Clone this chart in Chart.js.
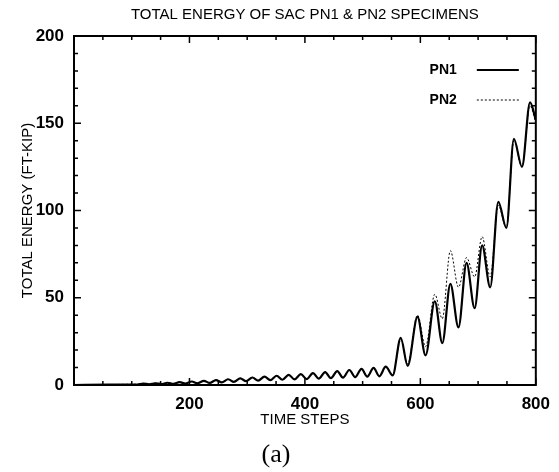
<!DOCTYPE html>
<html>
<head>
<meta charset="utf-8">
<script src="https://cdn.jsdelivr.net/npm/chart.js@4.4.0/dist/chart.umd.min.js"></script>
<style>
html, body { margin: 0; padding: 0; background: #fff; }
#wrap { width: 559px; height: 472px; }
</style>
</head>
<body>
<div id="wrap"><canvas id="energyChart"></canvas></div>
<script>
// time step of each sample (shared by both specimens)
var steps = [0, 60, 100,
    110, 120, 130, 141, 151, 162, 172, 183, 193, 204,
    214, 225, 235, 246, 256, 267, 277, 288, 298, 309,
    319, 330, 340, 351, 361, 372, 382, 393, 403, 414,
    424, 435, 445, 456, 466, 477, 487, 498, 508, 519,
    529, 540, 552, 566, 578, 595, 609, 625, 638, 652,
    666, 680, 694, 707, 721, 735, 749, 762, 776, 790, 800];

// total energy, ft-kip
var pn1Energy = [0, 0.2, 0.3,
    0.3, 0.8, 0.4, 1.0, 0.5, 1.3, 0.6, 1.6, 0.8, 2.0,
    1.0, 2.4, 1.2, 2.8, 1.5, 3.3, 1.8, 3.8, 2.2, 4.3,
    2.5, 4.8, 2.8, 5.3, 3.0, 5.8, 3.2, 6.2, 3.4, 6.8,
    3.6, 7.4, 3.9, 8.0, 4.2, 8.6, 4.5, 9.2, 4.8, 9.8,
    5.0, 10.5, 5.5, 27, 11, 39, 17, 48, 24, 58,
    33, 70, 44, 80, 56, 105, 90, 141, 125, 162, 152];

var pn2Energy = [0, 0.2, 0.4,
    0.4, 0.9, 0.5, 1.1, 0.6, 1.4, 0.7, 1.7, 0.9, 2.1,
    1.1, 2.5, 1.3, 2.9, 1.6, 3.4, 1.9, 3.9, 2.3, 4.4,
    2.6, 4.9, 2.9, 5.4, 3.1, 5.9, 3.3, 6.3, 3.5, 6.9,
    3.7, 7.5, 4.0, 8.1, 4.3, 8.7, 4.6, 9.3, 4.9, 9.9,
    5.1, 10.6, 5.8, 26, 12, 40, 22, 52, 38, 77,
    56, 73, 62, 85, 62, 103, 90, 140, 125, 160, 150];

var seriesNames = ['PN1', 'PN2'];
var xMax = 800, xMajor = 200, xMinor = 50;
var yMax = 200, yMajor = 50, yMinor = 10;

function toPoints(ys) {
    return steps.map(function (s, i) { return { x: s, y: ys[i] }; });
}

var plotFont = '"Liberation Sans", Arial, sans-serif';

// boxed frame with inward major/minor ticks on all four sides
var frameTicks = {
    id: 'frameTicks',
    afterDatasetsDraw: function (chart) {
        var ctx = chart.ctx, a = chart.chartArea;
        var xs = chart.scales.x, ys = chart.scales.y;
        ctx.save();
        ctx.strokeStyle = '#000';
        ctx.lineWidth = 2;
        ctx.strokeRect(a.left, a.top, a.right - a.left, a.bottom - a.top);
        ctx.lineWidth = 1.5;
        ctx.beginPath();
        for (var v = 0; v <= xMax; v += xMinor) {
            var px = xs.getPixelForValue(v);
            var len = v % xMajor === 0 ? 7 : 4;
            ctx.moveTo(px, a.bottom); ctx.lineTo(px, a.bottom - len);
            ctx.moveTo(px, a.top); ctx.lineTo(px, a.top + len);
        }
        for (v = 0; v <= yMax; v += yMinor) {
            var py = ys.getPixelForValue(v);
            len = v % yMajor === 0 ? 7 : 4;
            ctx.moveTo(a.left, py); ctx.lineTo(a.left + len, py);
            ctx.moveTo(a.right, py); ctx.lineTo(a.right - len, py);
        }
        ctx.stroke();
        ctx.restore();
    }
};

// legend in the upper right corner: name, then a sample of the line
var cornerLegend = {
    id: 'cornerLegend',
    afterDraw: function (chart) {
        var ctx = chart.ctx, a = chart.chartArea;
        ctx.save();
        ctx.font = 'bold 14px ' + plotFont;
        ctx.textAlign = 'right';
        ctx.textBaseline = 'middle';
        chart.data.datasets.forEach(function (ds, i) {
            var y = a.top + 34 + i * 30;
            ctx.fillStyle = '#000';
            ctx.fillText(ds.label, a.right - 79, y);
            ctx.strokeStyle = ds.borderColor;
            ctx.lineWidth = ds.borderWidth;
            ctx.setLineDash(ds.borderDash || []);
            ctx.beginPath();
            ctx.moveTo(a.right - 59, y);
            ctx.lineTo(a.right - 17, y);
            ctx.stroke();
        });
        ctx.restore();
    }
};

var energyChart = new Chart(document.getElementById('energyChart').getContext('2d'), {
    type: 'line',
    data: {
        datasets: [{
            label: seriesNames[0],
            data: toPoints(pn1Energy),
            borderColor: '#000',
            borderWidth: 2.2,
            pointRadius: 0,
            cubicInterpolationMode: 'monotone'
        }, {
            label: seriesNames[1],
            data: toPoints(pn2Energy),
            borderColor: '#000',
            borderWidth: 1,
            borderDash: [2, 2],
            pointRadius: 0,
            cubicInterpolationMode: 'monotone'
        }]
    },
    options: {
        responsive: true,
        maintainAspectRatio: false,
        animation: false,
        layout: { padding: { top: 0, right: 15, bottom: 0, left: 8 } },
        plugins: {
            legend: { display: false },
            tooltip: { enabled: false },
            title: {
                display: true,
                fullSize: false,
                text: 'TOTAL ENERGY OF SAC PN1 & PN2 SPECIMENS',
                color: '#000',
                font: { family: plotFont, size: 15, weight: 'normal' },
                padding: { top: 6, bottom: 12 }
            },
            subtitle: {
                display: true,
                position: 'bottom',
                text: '(a)',
                color: '#000',
                font: { family: '"Liberation Serif", "DejaVu Serif", serif', size: 26, weight: 'normal', lineHeight: 1 },
                padding: { top: 12, bottom: 4 }
            }
        },
        scales: {
            x: {
                type: 'linear',
                min: 0,
                max: xMax,
                grid: { display: false, drawTicks: false },
                border: { display: false },
                ticks: {
                    stepSize: xMajor,
                    padding: 9,
                    color: '#000',
                    font: { family: plotFont, size: 17, weight: 'bold' },
                    maxRotation: 0,
                    callback: function (v) { return v === 0 ? '' : v; }
                },
                title: {
                    display: true,
                    text: 'TIME STEPS',
                    color: '#000',
                    font: { family: plotFont, size: 15, weight: 'normal' },
                    padding: { top: 0, bottom: 1 }
                },
                afterFit: function (scale) { scale.height = 45; }
            },
            y: {
                min: 0,
                max: yMax,
                grid: { display: false, drawTicks: false },
                border: { display: false },
                ticks: {
                    stepSize: yMajor,
                    padding: 10,
                    color: '#000',
                    font: { family: plotFont, size: 17, weight: 'bold' }
                },
                title: {
                    display: true,
                    text: 'TOTAL ENERGY (FT-KIP)',
                    color: '#000',
                    font: { family: plotFont, size: 15, weight: 'normal' },
                    padding: { top: 11, bottom: 0 }
                },
                afterFit: function (scale) { scale.width = 66; }
            }
        }
    },
    plugins: [frameTicks, cornerLegend]
});
</script>
</body>
</html>
